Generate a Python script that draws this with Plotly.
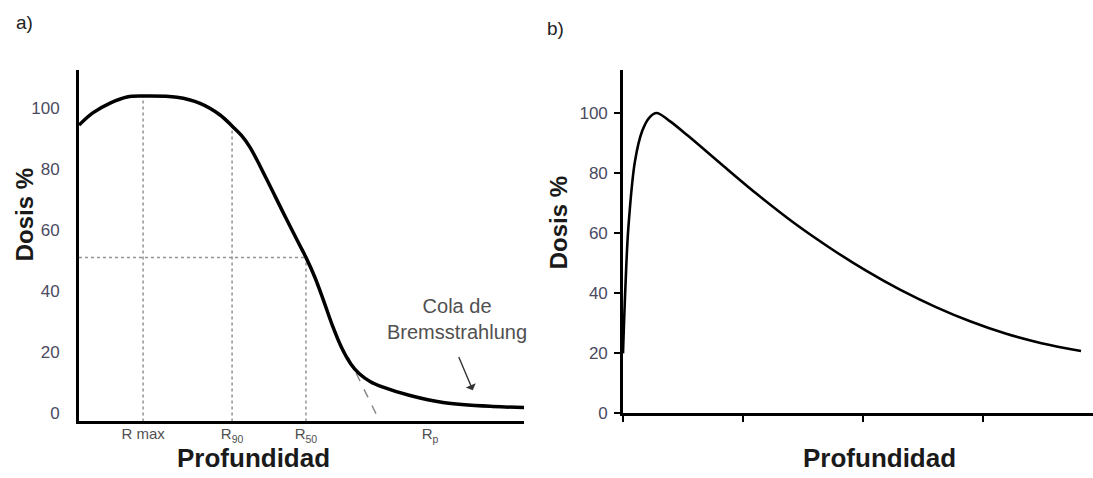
import plotly.graph_objects as go

# ---------------- data ----------------
# Panel a) electron depth-dose curve
depth_a = [0.00, 0.31, 0.70, 1.08, 1.44, 2.20, 2.72, 3.17, 3.46, 3.65, 3.84, 4.22, 4.58,
           4.90, 5.10, 5.30, 5.50, 5.70, 5.90, 6.10, 6.30, 6.55, 6.80, 7.44, 8.18, 9.30, 10.0]
dose_a = [94.4, 98.4, 101.6, 103.6, 103.9, 103.5, 101.5, 97.7, 93.8, 91.0, 87.2, 76.6, 66.0,
          56.8, 51.1, 44.6, 36.8, 28.6, 21.6, 16.4, 13.0, 10.4, 8.8, 5.9, 3.6, 2.3, 2.0]

ref_names = ["R max", "R<sub>90</sub>", "R<sub>50</sub>", "R<sub>p</sub>"]
ref_depth = [1.44, 3.44, 5.10, 7.89]
ref_dose = [103.9, 93.8, 51.1]           # dose at R max, R90, R50
extrap_depth = [6.05, 6.76]              # practical-range extrapolation line
extrap_dose = [18.5, -2.6]

# Panel b) photon depth-dose curve
depth_b = [0.00, 0.02, 0.045, 0.10, 0.16, 0.22, 0.28, 0.39, 0.54, 0.84, 1.13, 1.43,
           1.73, 2.02, 2.31, 2.61, 2.90, 3.19, 3.49, 3.82]
dose_b = [20.0, 42.0, 62.0, 84.0, 94.0, 98.5, 100.0, 97.3, 92.5, 82.3, 72.6, 63.3,
          55.0, 47.7, 41.2, 35.4, 30.6, 26.6, 23.4, 20.8]

y_ticks = [0, 20, 40, 60, 80, 100]
b_x_ticks = [0, 1, 2, 3]

# ---------------- layout geometry (pixels) ----------------
W, H = 1093, 478
VS = 0.978   # vertical compensation for how the page ends up photographed
def fx(px):
    return px / W
def fy(py):
    return 1 - (py / VS) / H

FONT = "Arial, Liberation Sans, sans-serif"
TICK_COLOR = "#4a4a62"

fig = go.Figure()

fig.add_trace(go.Scatter(x=depth_a, y=dose_a, mode="lines", xaxis="x", yaxis="y",
                         line=dict(color="black", width=3.5, shape="spline", smoothing=1.0),
                         showlegend=False, hoverinfo="skip"))
fig.add_trace(go.Scatter(x=depth_b, y=dose_b, mode="lines", xaxis="x2", yaxis="y2",
                         line=dict(color="black", width=2.6, shape="spline", smoothing=1.0),
                         showlegend=False, hoverinfo="skip"))

shapes = []
dot = dict(color="#939393", width=1.5, dash="dot")
y_bottom_a = -2.6
for d, v in zip(ref_depth[:3], ref_dose):
    shapes.append(dict(type="line", xref="x", yref="y", x0=d, x1=d, y0=y_bottom_a, y1=v,
                       line=dot, layer="below"))
shapes.append(dict(type="line", xref="x", yref="y", x0=0, x1=ref_depth[2],
                   y0=ref_dose[2], y1=ref_dose[2], line=dot, layer="below"))
shapes.append(dict(type="line", xref="x", yref="y", x0=extrap_depth[0], x1=extrap_depth[1],
                   y0=extrap_dose[0], y1=extrap_dose[1],
                   line=dict(color="#8a8a8a", width=1.5, dash="dash"), layer="below"))

title_font = dict(family=FONT, size=24, color="#1a1a1a")
x_title_font = dict(family=FONT, size=26, color="#1a1a1a")

annotations = [
    dict(text="Cola de<br>Bremsstrahlung", x=8.49, y=31.0, xref="x", yref="y",
         showarrow=False, font=dict(family=FONT, size=20, color="#505050"),
         xanchor="center", yanchor="middle"),
    dict(text="", x=8.85, y=7.6, xref="x", yref="y", ax=8.52, ay=19.0,
         axref="x", ayref="y", showarrow=True, arrowhead=1, arrowsize=1.3,
         arrowwidth=1.4, arrowcolor="#333333"),
    dict(text="a)", x=fx(24), y=fy(22), xref="paper", yref="paper", showarrow=False,
         font=dict(family=FONT, size=19, color="#222222"), xanchor="center", yanchor="middle"),
    dict(text="b)", x=fx(556), y=fy(28), xref="paper", yref="paper", showarrow=False,
         font=dict(family=FONT, size=19, color="#222222"), xanchor="center", yanchor="middle"),
    dict(text="<b>Dosis %</b>", x=fx(24), y=fy(215), xref="paper", yref="paper",
         showarrow=False, textangle=-90, font=title_font,
         xanchor="center", yanchor="middle"),
    dict(text="<b>Dosis %</b>", x=fx(558), y=fy(223), xref="paper", yref="paper",
         showarrow=False, textangle=-90, font=title_font,
         xanchor="center", yanchor="middle"),
    dict(text="<b>Profundidad</b>", x=fx(253), y=-0.012, xref="paper", yref="paper",
         showarrow=False, font=x_title_font, xanchor="center", yanchor="bottom",
         borderpad=0),
    dict(text="<b>Profundidad</b>", x=fx(880), y=-0.012, xref="paper", yref="paper",
         showarrow=False, font=x_title_font, xanchor="center", yanchor="bottom",
         borderpad=0),
]

fig.update_layout(
    width=W, height=H,
    margin=dict(l=0, r=0, t=0, b=0),
    paper_bgcolor="white", plot_bgcolor="white",
    showlegend=False,
    shapes=shapes, annotations=annotations,
    xaxis=dict(domain=[fx(79), fx(524)], range=[0, 10], anchor="y",
               showline=True, linecolor="black", linewidth=3, showgrid=False, zeroline=False,
               tickmode="array", tickvals=ref_depth, ticktext=ref_names, ticks="",
               ticklabelstandoff=-3,
               tickfont=dict(family=FONT, size=15, color="#505050")),
    yaxis=dict(domain=[fy(421), fy(70)], range=[y_bottom_a, 112.4], anchor="x",
               showline=True, linecolor="black", linewidth=3, showgrid=False, zeroline=False,
               tickmode="array", tickvals=y_ticks, ticks="", ticklabelstandoff=13,
               tickfont=dict(family=FONT, size=17, color=TICK_COLOR)),
    xaxis2=dict(domain=[fx(623), 1.0], range=[0, 3.92], anchor="y2",
                showline=True, linecolor="black", linewidth=2.6, showgrid=False, zeroline=False,
                tickmode="array", tickvals=b_x_ticks, ticks="outside", ticklen=6,
                tickwidth=2, tickcolor="black", showticklabels=False),
    yaxis2=dict(domain=[fy(413), fy(70)], range=[0, 114.3], anchor="x2",
                showline=True, linecolor="black", linewidth=2.6, showgrid=False, zeroline=False,
                tickmode="array", tickvals=y_ticks, ticks="outside", ticklen=6,
                tickwidth=2, tickcolor="black", ticklabelstandoff=3,
                tickfont=dict(family=FONT, size=17, color=TICK_COLOR)),
)

fig.write_html("out.html")
